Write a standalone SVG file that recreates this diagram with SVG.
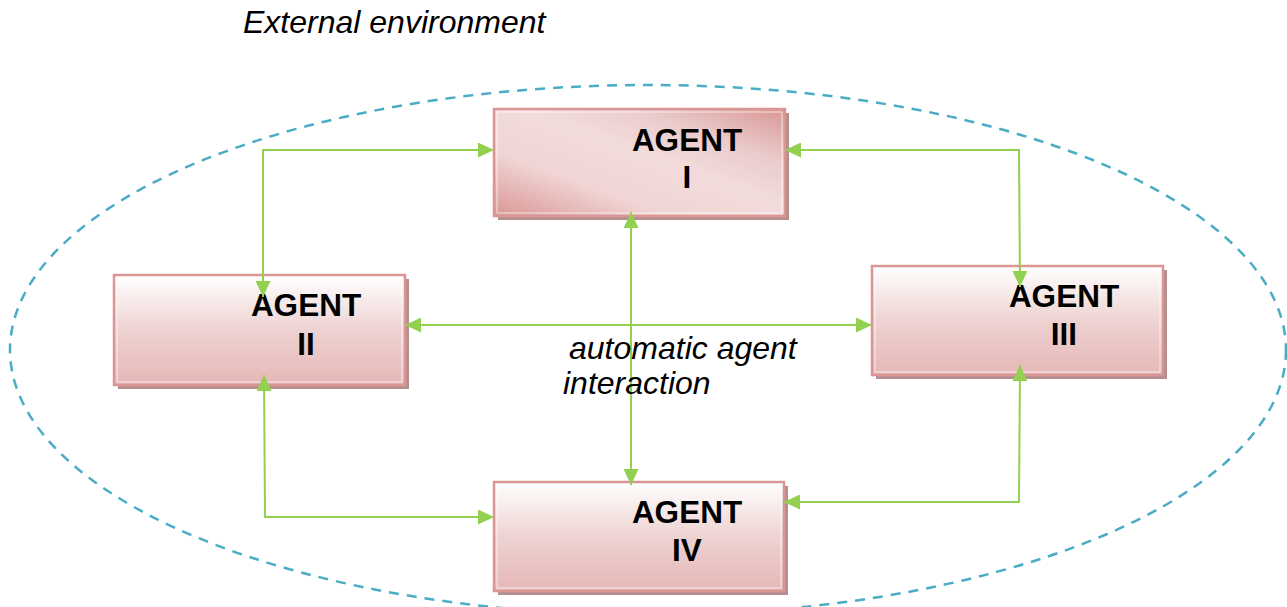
<svg xmlns="http://www.w3.org/2000/svg" width="1287" height="607" viewBox="0 0 1287 607">
<style>
.lbl{font-family:"Liberation Sans",Arial,sans-serif;font-size:31.5px;font-weight:bold;fill:#000;text-anchor:middle}
.it{font-family:"Liberation Sans",Arial,sans-serif;font-size:32px;font-style:italic;fill:#000}
.shadow{fill:#B48F8E}
.frame{stroke:#D99694;stroke-width:2.5}
.inner{fill:none;stroke:#FFFFFF;stroke-opacity:0.7;stroke-width:1}
.conn{fill:none;stroke:#92D050;stroke-width:2;marker-start:url(#ah);marker-end:url(#ah)}
</style>
<defs>
<linearGradient id="gDiag" x1="0" y1="1" x2="1" y2="0">
<stop offset="0" stop-color="#D99694"/>
<stop offset="0.3" stop-color="#F0D5D4"/>
<stop offset="0.55" stop-color="#F2DCDB"/>
<stop offset="0.75" stop-color="#EACACA"/>
<stop offset="1" stop-color="#D99694"/>
</linearGradient>
<linearGradient id="gVert" x1="0" y1="0" x2="0" y2="1">
<stop offset="0" stop-color="#FFFFFF"/>
<stop offset="0.5" stop-color="#EED3D2"/>
<stop offset="1" stop-color="#E5B7B6"/>
</linearGradient>
<marker id="ah" markerUnits="userSpaceOnUse" markerWidth="16" markerHeight="15" refX="16" refY="7.5" orient="auto-start-reverse" viewBox="0 0 16 15">
<path d="M0,0 L16,7.5 L0,15 z" fill="#92D050"/>
</marker>
</defs>
<rect width="1287" height="607" fill="#FFFFFF"/>
<ellipse id="environment" cx="648" cy="350" rx="638" ry="265" fill="none" stroke="#4BACC6" stroke-width="2.5" stroke-dasharray="10 8"/>
<text class="it" x="243" y="33">External environment</text>
<g id="agent1">
<rect class="shadow" x="498" y="113" width="291" height="107"/>
<rect class="frame" x="494" y="109" width="291" height="107" fill="url(#gDiag)"/>
<rect class="inner" x="497" y="112" width="285" height="101"/>
<text class="lbl" x="687" y="151">AGENT</text>
<text class="lbl" x="687" y="188">I</text>
</g>
<g id="agent2">
<rect class="shadow" x="118" y="279" width="291" height="110"/>
<rect class="frame" x="114" y="275" width="291" height="110" fill="url(#gVert)"/>
<rect class="inner" x="117" y="278" width="285" height="104"/>
<text class="lbl" x="306" y="316">AGENT</text>
<text class="lbl" x="306" y="355">II</text>
</g>
<g id="agent3">
<rect class="shadow" x="876" y="270" width="291" height="109"/>
<rect class="frame" x="872" y="266" width="291" height="109" fill="url(#gVert)"/>
<rect class="inner" x="875" y="269" width="285" height="103"/>
<text class="lbl" x="1064" y="307">AGENT</text>
<text class="lbl" x="1064" y="345">III</text>
</g>
<g id="agent4">
<rect class="shadow" x="498" y="486" width="290" height="109"/>
<rect class="frame" x="494" y="482" width="290" height="109" fill="url(#gVert)"/>
<rect class="inner" x="497" y="485" width="284" height="103"/>
<text class="lbl" x="687" y="523">AGENT</text>
<text class="lbl" x="687" y="561">IV</text>
</g>
<g id="connectors">
<path class="conn" d="M263,297 L263,150 L494,150"/>
<path class="conn" d="M785,150 L1019,150 L1020,287"/>
<path class="conn" d="M405,325 L872,325"/>
<path class="conn" d="M631,212 L631,485"/>
<path class="conn" d="M264,375 L265,517 L494,517"/>
<path class="conn" d="M1020,365 L1019,502 L784,502"/>
</g>
<g id="label">
<text class="it" x="569" y="359">automatic agent</text>
<text class="it" x="563" y="394">interaction</text>
</g>
</svg>
